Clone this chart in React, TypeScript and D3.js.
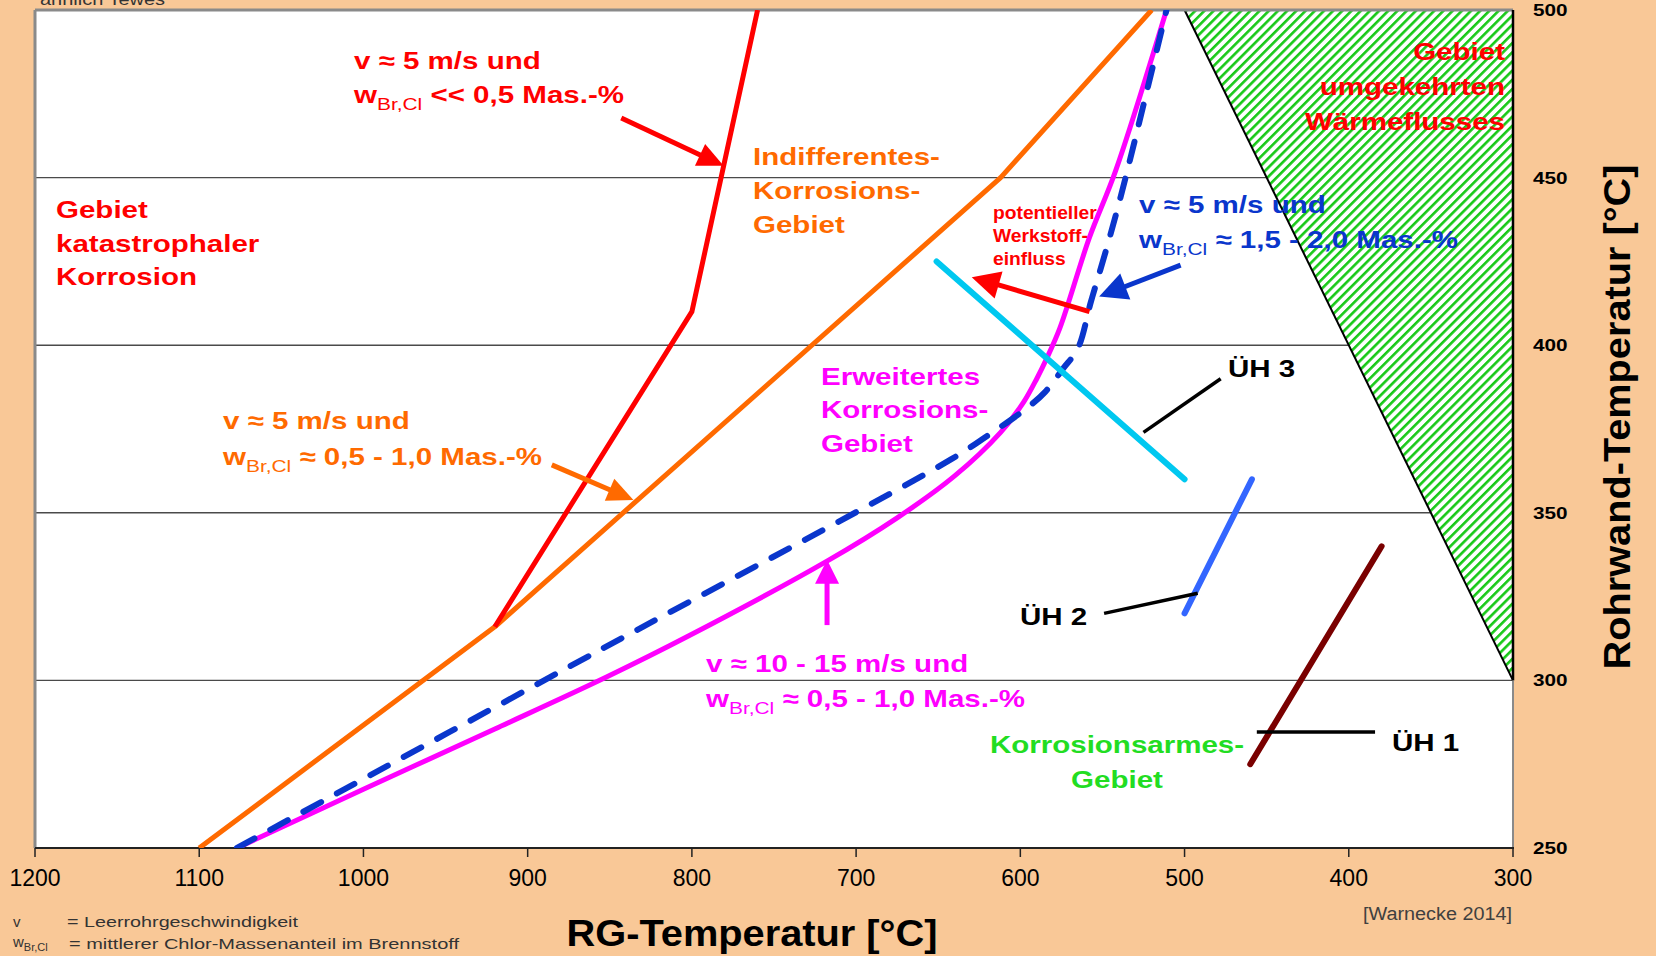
import React from 'react';
import * as d3 from 'd3';

type P = [number, number];

// ---- axis / tick data ----
const xTicks = [1200, 1100, 1000, 900, 800, 700, 600, 500, 400, 300];
const yTicks = [250, 300, 350, 400, 450, 500];
const gridLevels = [300, 350, 400, 450];

// ---- curves (x = RG-Temperatur, y = Rohrwand-Temperatur) ----
const redCurve: P[] = [[920, 316], [800, 410], [760, 500]];
const orangeCurve: P[] = [[1100, 250], [920, 316], [612, 450], [520, 500]];
const magentaCurve: P[] = [
  [1077, 250], [1000, 267.5], [920, 285.5], [852, 301], [803, 313], [718, 335.5],
  [675, 348.5], [640, 361], [612, 374], [598, 383], [590, 390], [584, 396],
  [576, 405], [558, 432], [542, 452], [511, 500],
];
const blueDashedCurve: P[] = [
  [1077, 250], [860, 308], [642, 366], [620, 373], [605, 378], [594, 382],
  [585, 386], [574, 393], [565, 399], [557, 413], [548, 428], [538, 446], [511, 500],
];
const uh3Line: P[] = [[651, 425], [500, 360]];
const uh2Line: P[] = [[500, 320], [459, 360]];
const uh1Line: P[] = [[460, 275], [380, 340]];
const reversedZone: P[] = [[500, 500], [300, 500], [300, 300]];

// ---- leader lines & arrows ----
const uh3Leader: P[] = [[525, 374], [478, 390]];
const uh2Leader: P[] = [[549, 320], [492, 326]];
const uh1Leader: P[] = [[456, 284.6], [384, 284.6]];
const arrowRed: P[] = [[843, 467.8], [780.7, 453.5]];
const arrowOrange: P[] = [[885.3, 364.3], [835.6, 353.8]];
const arrowMagenta: P[] = [[717.7, 316.5], [717.7, 336]];
const arrowBlue: P[] = [[502.4, 423.9], [552, 414.5]];
const arrowWerkstoff: P[] = [[557.9, 410], [629.6, 420.3]];

const FONT = 'Liberation Sans, Arial, Helvetica, sans-serif';
const SX = 1.23;

function Lbl(props: {
  x: number; y: number; fill: string; size?: number; sx?: number;
  weight?: string; anchor?: string; children: React.ReactNode;
}) {
  const { x, y, fill, size = 24, sx = SX, weight = 'bold', anchor = 'start', children } = props;
  return (
    <text
      transform={`translate(${x},${y}) scale(${sx},1)`}
      fill={fill}
      fontSize={size}
      fontWeight={weight}
      fontFamily={FONT}
      textAnchor={anchor as any}
    >
      {children}
    </text>
  );
}

function Sub({ rest }: { rest: string }) {
  return (
    <>
      <tspan>w</tspan>
      <tspan fontSize={17} fontWeight="normal" dy={7}>Br,Cl</tspan>
      <tspan dy={-7}>{rest}</tspan>
    </>
  );
}

export default function App() {
  const x = d3.scaleLinear().domain([1200, 300]).range([35, 1513]);
  const y = d3.scaleLinear().domain([250, 500]).range([848, 10]);
  const straight = d3.line<P>().x((d) => x(d[0])).y((d) => y(d[1]));
  const smooth = d3
    .line<P>()
    .x((d) => x(d[0]))
    .y((d) => y(d[1]))
    .curve(d3.curveCatmullRom.alpha(0.5));

  const x0 = x(1200), x1 = x(300), y0 = y(250), y1 = y(500);

  const arrow = (pts: P[], color: string, width = 5, headLen = 26, headHalf = 12) => {
    const [ax, ay] = [x(pts[0][0]), y(pts[0][1])];
    const [bx, by] = [x(pts[1][0]), y(pts[1][1])];
    const dx = bx - ax, dy = by - ay;
    const len = Math.hypot(dx, dy);
    const ux = dx / len, uy = dy / len;
    const cx = bx - ux * headLen, cy = by - uy * headLen;
    const nx = -uy, ny = ux;
    const head = `${bx},${by} ${cx + nx * headHalf},${cy + ny * headHalf} ${cx - nx * headHalf},${cy - ny * headHalf}`;
    return (
      <g>
        <line x1={ax} y1={ay} x2={cx + ux * 2} y2={cy + uy * 2} stroke={color} strokeWidth={width} />
        <polygon points={head} fill={color} />
      </g>
    );
  };

  return (
    <svg width={1656} height={956} style={{ position: 'absolute', left: 0, top: 0 }}>
      <defs>
        <clipPath id="plot">
          <rect x={x0} y={y1} width={x1 - x0} height={y0 - y1} />
        </clipPath>
        <pattern id="hatch" patternUnits="userSpaceOnUse" width={6.5} height={6.5} patternTransform="rotate(45)">
          <rect x={0} y={0} width={6.5} height={6.5} fill="#ffffff" />
          <rect x={0} y={0} width={2.6} height={6.5} fill="#18C918" />
        </pattern>
      </defs>
      <rect x={0} y={0} width={1656} height={956} fill="#F9C897" />

      {/* partially cut text at top (cut off in the original as well) */}
      <text x={40} y={5} fontSize={16} fontFamily={FONT} fill="#333" textLength={125} lengthAdjust="spacingAndGlyphs">
        ähnlich Tewes
      </text>

      {/* plot background */}
      <rect x={x0} y={y1} width={x1 - x0} height={y0 - y1} fill="#ffffff" />

      {/* gridlines */}
      {gridLevels.map((g) => (
        <line key={g} x1={x0} x2={x1} y1={y(g)} y2={y(g)} stroke="#4a4a4a" strokeWidth={1.4} />
      ))}

      {/* reversed heat flux zone */}
      <polygon
        points={reversedZone.map((d) => `${x(d[0])},${y(d[1])}`).join(' ')}
        fill="url(#hatch)"
        stroke="none"
      />
      <line x1={x(reversedZone[0][0])} y1={y(reversedZone[0][1])} x2={x(reversedZone[2][0])} y2={y(reversedZone[2][1])} stroke="#000" strokeWidth={2} />

      {/* frame */}
      <line x1={x0} y1={y1} x2={x1} y2={y1} stroke="#8a8a8a" strokeWidth={3} />
      <line x1={x0} y1={y1} x2={x0} y2={y0} stroke="#8a8a8a" strokeWidth={3} />
      <line x1={x1} y1={y1} x2={x1} y2={y(300)} stroke="#000" strokeWidth={2.5} />
      <line x1={x1} y1={y(300)} x2={x1} y2={y0} stroke="#8a8a8a" strokeWidth={2} />
      <line x1={x0} y1={y0} x2={x1 + 1} y2={y0} stroke="#222" strokeWidth={2} />

      {/* x ticks */}
      {xTicks.map((t) => (
        <g key={t}>
          <line x1={x(t)} x2={x(t)} y1={y0} y2={y0 + 9} stroke="#222" strokeWidth={1.5} />
          <text x={x(t)} y={886} fontSize={23} fontFamily={FONT} textAnchor="middle" fill="#000">
            {t}
          </text>
        </g>
      ))}
      {/* y tick labels (right) */}
      {yTicks.map((t) => (
        <text
          key={t}
          transform={`translate(1533,${y(t) + 6}) scale(1.22,1)`}
          fontSize={17}
          fontWeight="bold"
          fontFamily={FONT}
          fill="#000"
        >
          {t}
        </text>
      ))}

      {/* axis titles */}
      <text x={752} y={946} fontSize={36} fontWeight="bold" fontFamily={FONT} textAnchor="middle" textLength={371} lengthAdjust="spacingAndGlyphs">
        RG-Temperatur [°C]
      </text>
      <text
        transform="translate(1630,417) rotate(-90)"
        fontSize={37}
        fontWeight="bold"
        fontFamily={FONT}
        textAnchor="middle"
        textLength={505}
        lengthAdjust="spacingAndGlyphs"
      >
        Rohrwand-Temperatur [°C]
      </text>

      {/* curves */}
      <g clipPath="url(#plot)" fill="none" strokeLinejoin="round">
        <path d={straight(orangeCurve) || ''} stroke="#FF6A00" strokeWidth={5} />
        <path d={straight(redCurve) || ''} stroke="#FF0000" strokeWidth={5} />
        <path d={smooth(magentaCurve) || ''} stroke="#FF00FF" strokeWidth={5} />
        <path d={smooth(blueDashedCurve) || ''} stroke="#0A36CC" strokeWidth={6} strokeDasharray="20 18" strokeLinecap="round" />
        <path d={straight(uh3Line) || ''} stroke="#00C8F0" strokeWidth={6} strokeLinecap="round" />
        <path d={straight(uh2Line) || ''} stroke="#3366FF" strokeWidth={6} strokeLinecap="round" />
        <path d={straight(uh1Line) || ''} stroke="#7A0000" strokeWidth={6} strokeLinecap="round" />
        <path d={straight(uh3Leader) || ''} stroke="#000" strokeWidth={3.5} />
        <path d={straight(uh2Leader) || ''} stroke="#000" strokeWidth={3.5} />
        <path d={straight(uh1Leader) || ''} stroke="#000" strokeWidth={3.5} />
      </g>

      {/* arrows */}
      {arrow(arrowRed, '#FF0000')}
      {arrow(arrowOrange, '#FF6A00')}
      {arrow(arrowMagenta, '#FF00FF', 5, 24, 12)}
      {arrow(arrowBlue, '#0A36CC', 5, 28, 14)}
      {arrow(arrowWerkstoff, '#FF0000', 5, 28, 14)}

      {/* labels */}
      <Lbl x={354} y={69} fill="#FF0000">v ≈ 5 m/s und</Lbl>
      <Lbl x={354} y={103} fill="#FF0000"><Sub rest=" << 0,5 Mas.-%" /></Lbl>

      <Lbl x={56} y={218} fill="#FF0000">Gebiet</Lbl>
      <Lbl x={56} y={252} fill="#FF0000">katastrophaler</Lbl>
      <Lbl x={56} y={285} fill="#FF0000">Korrosion</Lbl>

      <Lbl x={753} y={165} fill="#FF6A00">Indifferentes-</Lbl>
      <Lbl x={753} y={199} fill="#FF6A00">Korrosions-</Lbl>
      <Lbl x={753} y={233} fill="#FF6A00">Gebiet</Lbl>

      <Lbl x={223} y={429} fill="#FF6A00">v ≈ 5 m/s und</Lbl>
      <Lbl x={223} y={465} fill="#FF6A00"><Sub rest=" ≈ 0,5 - 1,0 Mas.-%" /></Lbl>

      <Lbl x={821} y={385} fill="#FF00FF">Erweitertes</Lbl>
      <Lbl x={821} y={418} fill="#FF00FF">Korrosions-</Lbl>
      <Lbl x={821} y={452} fill="#FF00FF">Gebiet</Lbl>

      <Lbl x={706} y={672} fill="#FF00FF">v ≈ 10 - 15 m/s und</Lbl>
      <Lbl x={706} y={707} fill="#FF00FF"><Sub rest=" ≈ 0,5 - 1,0 Mas.-%" /></Lbl>

      <Lbl x={993} y={219} fill="#FF0000" size={18} sx={1.07}>potentieller</Lbl>
      <Lbl x={993} y={242} fill="#FF0000" size={18} sx={1.07}>Werkstoff-</Lbl>
      <Lbl x={993} y={265} fill="#FF0000" size={18} sx={1.07}>einfluss</Lbl>

      <Lbl x={1139} y={213} fill="#0A36CC">v ≈ 5 m/s und</Lbl>
      <Lbl x={1139} y={248} fill="#0A36CC"><Sub rest=" ≈ 1,5 - 2,0 Mas.-%" /></Lbl>

      <Lbl x={1228} y={377} fill="#000">ÜH 3</Lbl>
      <Lbl x={1020} y={625} fill="#000">ÜH 2</Lbl>
      <Lbl x={1392} y={751} fill="#000">ÜH 1</Lbl>

      <Lbl x={1117} y={753} fill="#22DD22" anchor="middle">Korrosionsarmes-</Lbl>
      <Lbl x={1117} y={788} fill="#22DD22" anchor="middle">Gebiet</Lbl>

      <Lbl x={1505} y={60} fill="#FF0000" anchor="end">Gebiet</Lbl>
      <Lbl x={1505} y={95} fill="#FF0000" anchor="end">umgekehrten</Lbl>
      <Lbl x={1505} y={130} fill="#FF0000" anchor="end">Wärmeflusses</Lbl>

      {/* footnotes */}
      <text x={13} y={927} fontSize={15} fontFamily={FONT} fill="#333">v</text>
      <text x={67} y={927} fontSize={15} fontFamily={FONT} fill="#333" textLength={231} lengthAdjust="spacingAndGlyphs">
        = Leerrohrgeschwindigkeit
      </text>
      <text x={13} y={947} fontSize={15} fontFamily={FONT} fill="#333">
        w<tspan fontSize={11} dy={4}>Br,Cl</tspan>
      </text>
      <text x={69} y={949} fontSize={15} fontFamily={FONT} fill="#333" textLength={390} lengthAdjust="spacingAndGlyphs">
        = mittlerer  Chlor-Massenanteil  im Brennstoff
      </text>
      <text x={1512} y={920} fontSize={18} fontFamily={FONT} fill="#404040" textAnchor="end" textLength={149} lengthAdjust="spacingAndGlyphs">
        [Warnecke 2014]
      </text>
    </svg>
  );
}
